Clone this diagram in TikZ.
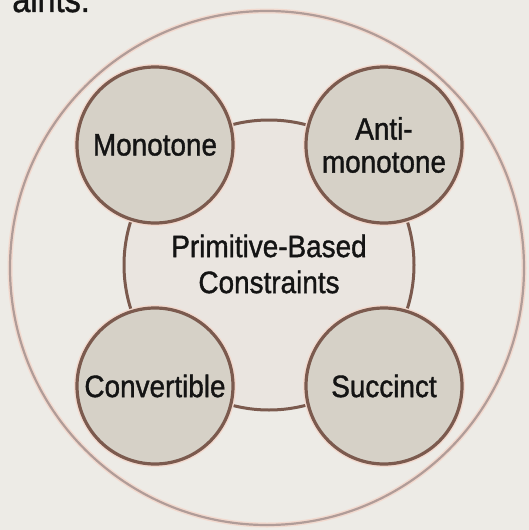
\documentclass[tikz,border=0pt]{standalone}
\usepackage{fontspec}
\setmainfont[FakeStretch=0.9, FakeBold=1.2]{Liberation Sans}
\definecolor{bgc}{HTML}{EDEBE6}
\definecolor{smallfill}{HTML}{D6D1C7}
\definecolor{midfill}{HTML}{EAE5E0}
\definecolor{brownline}{HTML}{7B5A4E}
\definecolor{outerline}{HTML}{B09C98}
\definecolor{halo}{HTML}{F2D9CE}
\definecolor{txt}{HTML}{141414}
\tikzset{
  smallc/.style={circle, fill=smallfill, draw=brownline, line width=3.2pt, minimum size=156pt, inner sep=0pt, align=center, text=txt, font=\fontsize{31}{33}\selectfont},
  haloc/.style={circle, draw=halo, line width=6pt, minimum size=156pt, inner sep=0pt},
  midc/.style={circle, fill=midfill, draw=brownline, line width=3pt, minimum size=290pt, inner sep=0pt},
  outerc/.style={circle, draw=outerline, line width=2.2pt, minimum size=514pt, inner sep=0pt}
}
\begin{document}
\begin{tikzpicture}[x=1pt, y=-1pt]
\clip (0,0) rectangle (529,530);
\fill[bgc] (0,0) rectangle (529,530);
% title fragment
\node[anchor=base east, inner sep=0pt, text=txt, font=\fontsize{36}{36}\selectfont] (title) at (90,12) {aints:};
% outer circle
\node[circle, draw=halo, line width=5pt, minimum size=514pt, inner sep=0pt] (outerhalo) at (267,268) {};
\node[outerc] (outer) at (267,268) {};
% central circle
\node[midc] (mid) at (269,265) {};
\node[align=center, text=txt, font=\fontsize{31}{36}\selectfont] (midtext) at (269,264) {Primitive-Based\\Constraints};
% small circles halos
\node[haloc] (h1) at (155,145) {};
\node[haloc] (h2) at (384,145) {};
\node[haloc] (h3) at (155,386) {};
\node[haloc] (h4) at (384,386) {};
% small circles
\node[smallc] (mono) at (155,145) {Monotone};
\node[smallc] (anti) at (384,145) {Anti-\\monotone};
\node[smallc] (conv) at (155,386) {Convertible};
\node[smallc] (succ) at (384,386) {Succinct};
\end{tikzpicture}
\end{document}
